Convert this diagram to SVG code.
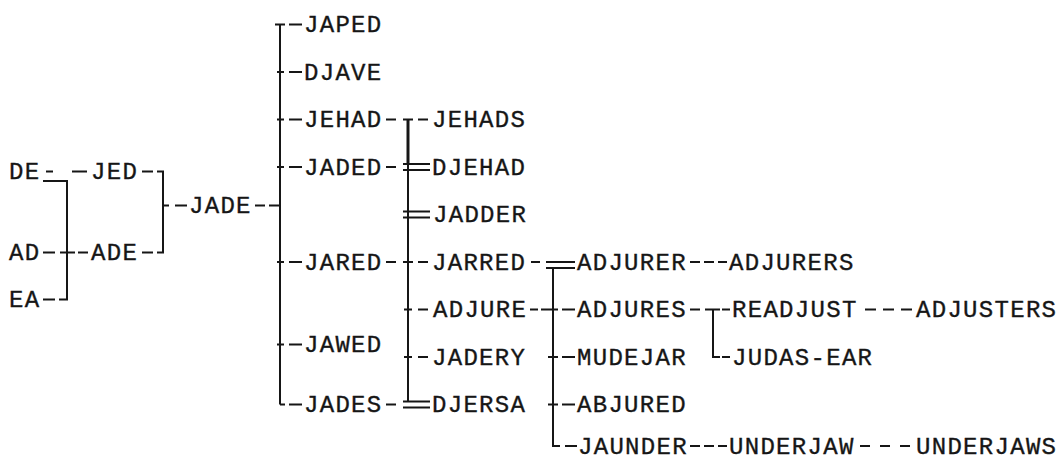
<svg xmlns="http://www.w3.org/2000/svg" width="1060" height="461" viewBox="0 0 1060 461">
<style>
.t{font-family:"Liberation Mono","DejaVu Sans Mono",monospace;font-size:24px;letter-spacing:1.3px;fill:#161616;stroke:#161616;stroke-width:0.35px}
.c{fill:none;stroke:#161616;stroke-width:2}
.b{fill:none;stroke:#161616;stroke-width:3}
</style>
<rect width="1060" height="461" fill="#ffffff"/>
<g id="connectors">
<path class="c" d="M46 171.5H53M43 181H67V299.5H59M72 171.5H87M43 299.5H55M43 252.5H55M60 252.5H75M78 252.5H88M142 171.5H153M157 171.5H163V252.5H157M142 252.5H153M163 205.5H169M175 205.5H187M255 205.5H265M269 205.5H280"/>
<path class="c" d="M280 24.5V404.5M275 24.5H285M277 72H284M277 119.5H284M277 167H284M277 262H284M277 344.5H284M280 404.5H285M289 24.5H302M289 72H302M289 119.5H302M289 167H302M289 262H302M289 344.5H302M289 404.5H302"/>
<path class="b" d="M408 119.5V164"/>
<path class="c" d="M386 119.5H396M403 119.5H413M408 164V401.5M418 119.5H428M386 167H396M403 164H430M403 170H430M403 211.5H430M403 217.5H430M386 262H396M403 262H413M418 262H428M404 309.5H412M418 309.5H428M404 357H412M418 357H428M386 404.5H396M403 401.5H430M403 407.5H430"/>
<path class="c" d="M531 262H540M546 262H575M546 268H575M553 268V446H560M530 309.5H538M541 309.5H558M562 309.5H575M548 357H558M562 357H575M548 404.5H558M562 404.5H575M565 446H577"/>
<path class="c" d="M690 262H700M704 262H714M718 262H727M690 309.5H700M705 309.5H720M713 309.5V357H720M722 309.5H730M722 357H730M865 309.5H876M883 309.5H894M901 309.5H912M690 446H700M704 446H714M718 446H727M860 446H870M880 446H890M900 446H910"/>
</g>
<g id="n-DE"><text class="t" x="9" y="179">DE</text></g>
<g id="n-AD"><text class="t" x="9" y="260">AD</text></g>
<g id="n-EA"><text class="t" x="9" y="307">EA</text></g>
<g id="n-JED"><text class="t" x="91" y="179">JED</text></g>
<g id="n-ADE"><text class="t" x="91" y="260">ADE</text></g>
<g id="n-JADE"><text class="t" x="189" y="213">JADE</text></g>
<g id="n-JAPED"><text class="t" x="304" y="32">JAPED</text></g>
<g id="n-DJAVE"><text class="t" x="304" y="79.5">DJAVE</text></g>
<g id="n-JEHAD"><text class="t" x="304" y="127">JEHAD</text></g>
<g id="n-JADED"><text class="t" x="304" y="174.5">JADED</text></g>
<g id="n-JARED"><text class="t" x="304" y="269.5">JARED</text></g>
<g id="n-JAWED"><text class="t" x="304" y="352">JAWED</text></g>
<g id="n-JADES"><text class="t" x="304" y="412">JADES</text></g>
<g id="n-JEHADS"><text class="t" x="432" y="127">JEHADS</text></g>
<g id="n-DJEHAD"><text class="t" x="432" y="174.5">DJEHAD</text></g>
<g id="n-JADDER"><text class="t" x="433" y="222">JADDER</text></g>
<g id="n-JARRED"><text class="t" x="432" y="269.5">JARRED</text></g>
<g id="n-ADJURE"><text class="t" x="433" y="317">ADJURE</text></g>
<g id="n-JADERY"><text class="t" x="432" y="364.5">JADERY</text></g>
<g id="n-DJERSA"><text class="t" x="432" y="412">DJERSA</text></g>
<g id="n-ADJURER"><text class="t" x="577" y="269.5">ADJURER</text></g>
<g id="n-ADJURES"><text class="t" x="577" y="317">ADJURES</text></g>
<g id="n-MUDEJAR"><text class="t" x="577" y="364.5">MUDEJAR</text></g>
<g id="n-ABJURED"><text class="t" x="577" y="412">ABJURED</text></g>
<g id="n-JAUNDER"><text class="t" x="578" y="453.5">JAUNDER</text></g>
<g id="n-ADJURERS"><text class="t" x="729" y="269.5">ADJURERS</text></g>
<g id="n-READJUST"><text class="t" x="732" y="317">READJUST</text></g>
<g id="n-JUDAS-EAR"><text class="t" x="732" y="364.5">JUDAS-EAR</text></g>
<g id="n-UNDERJAW"><text class="t" x="729" y="453.5">UNDERJAW</text></g>
<g id="n-ADJUSTERS"><text class="t" x="916" y="317">ADJUSTERS</text></g>
<g id="n-UNDERJAWS"><text class="t" x="916" y="453.5">UNDERJAWS</text></g>
</svg>
